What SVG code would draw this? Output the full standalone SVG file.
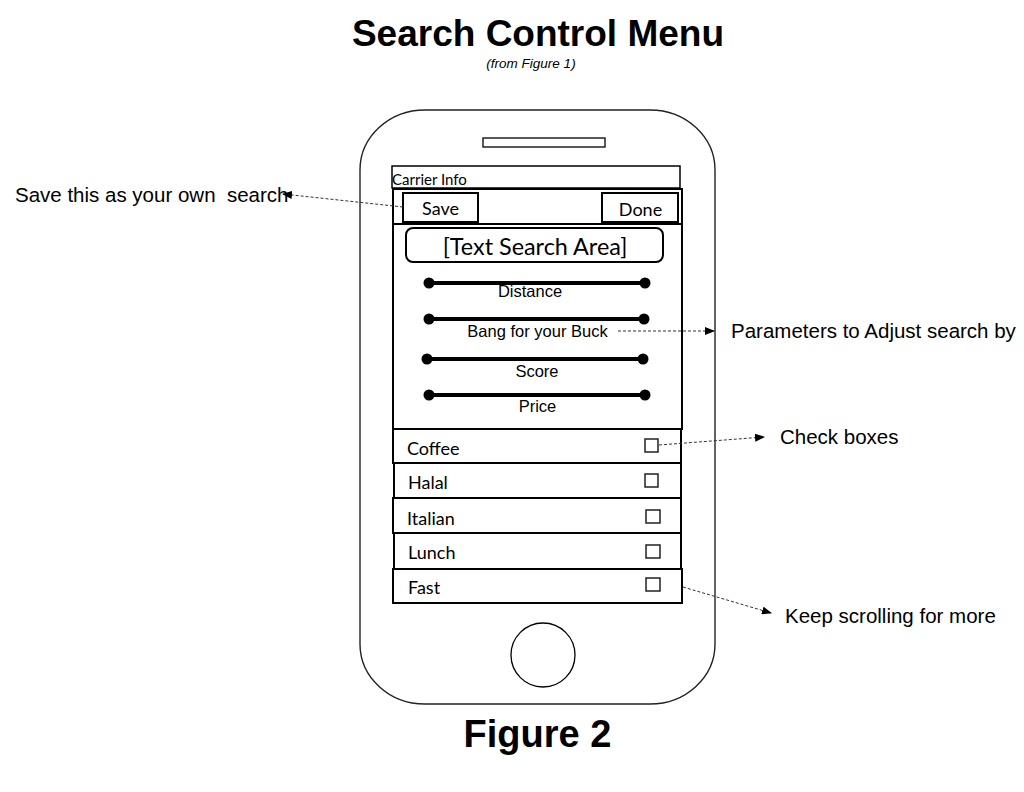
<svg xmlns="http://www.w3.org/2000/svg" width="1024" height="792" viewBox="0 0 1024 792">
<style>
.h{font-family:"Liberation Sans",Arial,sans-serif;font-weight:bold;fill:#000}
.a{font-family:"Liberation Sans",Arial,sans-serif;fill:#000}
.c{font-family:Lato,"Liberation Sans",sans-serif;fill:#000}
.box{fill:#fff;stroke:#000;stroke-width:2}
.thin{fill:none;stroke:#000;stroke-width:1.3}
.cb{fill:#fff;stroke:#222;stroke-width:1.5}
.sl{stroke:#000;stroke-width:4}
.conn{fill:none;stroke:#333;stroke-width:1;stroke-dasharray:3 2}
</style>
<defs>
<marker id="ah" markerWidth="10" markerHeight="8" refX="9" refY="4" orient="auto" markerUnits="userSpaceOnUse">
<path d="M0,0 L10,4 L0,8 z" fill="#000"/>
</marker>
</defs>
<rect width="1024" height="792" fill="#fff"/>
<g id="title">
<text class="h" x="538" y="46" font-size="37" text-anchor="middle">Search Control Menu</text>
<text class="a" x="531" y="68" font-size="13.5" font-style="italic" text-anchor="middle">(from Figure 1)</text>
</g>
<g id="phone">
<rect x="360" y="110" width="355" height="594" rx="65" ry="60" fill="#fff" stroke="#222" stroke-width="1.4"/>
<rect x="483" y="138" width="122" height="9" class="thin"/>
<circle cx="543" cy="655" r="32" class="thin"/>
</g>
<g id="carrier">
<rect x="392" y="166" width="288" height="22" fill="#fff" stroke="#000" stroke-width="1.5"/>
<text class="c" x="392" y="185" font-size="15">Carrier Info</text>
</g>
<g id="toolbar">
<rect x="393" y="189" width="289" height="35" class="box"/>
</g>
<g id="save">
<rect x="403" y="193" width="75" height="29" class="box"/>
<text class="c" x="440.5" y="215" font-size="18" text-anchor="middle">Save</text>
</g>
<g id="done">
<rect x="602" y="193" width="76" height="29" class="box"/>
<text class="c" x="640.5" y="216" font-size="18" text-anchor="middle">Done</text>
</g>
<g id="sliderpanel">
<rect x="393" y="224" width="289" height="205" class="box"/>
</g>
<g id="textsearch">
<rect x="406" y="228" width="257" height="34" rx="7" class="box"/>
<text class="c" x="535" y="255" font-size="23.4" text-anchor="middle">[Text Search Area]</text>
</g>
<g id="slider-distance">
<line x1="429" y1="283" x2="645" y2="283" class="sl"/>
<circle cx="429" cy="283" r="5.5"/><circle cx="645" cy="283" r="5.5"/>
<text class="a" x="530" y="297" font-size="16.5" text-anchor="middle">Distance</text>
</g>
<g id="slider-bang">
<line x1="429" y1="319" x2="644" y2="319" class="sl"/>
<circle cx="429" cy="319" r="5.5"/><circle cx="644" cy="319" r="5.5"/>
<text class="a" x="537.5" y="337" font-size="16.5" text-anchor="middle">Bang for your Buck</text>
</g>
<g id="slider-score">
<line x1="427" y1="359" x2="643" y2="359" class="sl"/>
<circle cx="427" cy="359" r="5.5"/><circle cx="643" cy="359" r="5.5"/>
<text class="a" x="537" y="377" font-size="16.5" text-anchor="middle">Score</text>
</g>
<g id="slider-price">
<line x1="429" y1="395" x2="645" y2="395" class="sl"/>
<circle cx="429" cy="395" r="5.5"/><circle cx="645" cy="395" r="5.5"/>
<text class="a" x="537.5" y="412" font-size="16.5" text-anchor="middle">Price</text>
</g>
<g id="row-coffee">
<rect x="393" y="429" width="288" height="34" class="box"/>
<text class="c" x="407" y="455" font-size="18">Coffee</text>
<rect x="645" y="439" width="13" height="13" class="cb"/>
</g>
<g id="row-halal">
<rect x="394" y="463" width="287" height="35" class="box"/>
<text class="c" x="408" y="489" font-size="18">Halal</text>
<rect x="645" y="474" width="13" height="13" class="cb"/>
</g>
<g id="row-italian">
<rect x="393" y="498" width="288" height="35" class="box"/>
<text class="c" x="407" y="525" font-size="18">Italian</text>
<rect x="646" y="510" width="14" height="13" class="cb"/>
</g>
<g id="row-lunch">
<rect x="394" y="533" width="287" height="36" class="box"/>
<text class="c" x="408" y="559" font-size="18">Lunch</text>
<rect x="646" y="545" width="14" height="13" class="cb"/>
</g>
<g id="row-fast">
<rect x="393" y="569" width="289" height="34" class="box"/>
<text class="c" x="408" y="594" font-size="18">Fast</text>
<rect x="646" y="578" width="14" height="13" class="cb"/>
</g>
<g id="connectors">
<line x1="403" y1="207" x2="283" y2="194" class="conn" marker-end="url(#ah)"/>
<line x1="618" y1="331" x2="714" y2="331" class="conn" marker-end="url(#ah)"/>
<line x1="659" y1="445" x2="764" y2="437" class="conn" marker-end="url(#ah)"/>
<line x1="683" y1="587" x2="771" y2="613" class="conn" marker-end="url(#ah)"/>
</g>
<g id="labels">
<text class="a" x="15" y="202" font-size="20.5" xml:space="preserve">Save this as your own  search</text>
<text class="a" x="731" y="338" font-size="20.5">Parameters to Adjust search by</text>
<text class="a" x="780" y="444" font-size="20.5">Check boxes</text>
<text class="a" x="785" y="623" font-size="20.5">Keep scrolling for more</text>
</g>
<g id="caption">
<text class="h" x="537.5" y="747" font-size="38" text-anchor="middle">Figure 2</text>
</g>
</svg>
